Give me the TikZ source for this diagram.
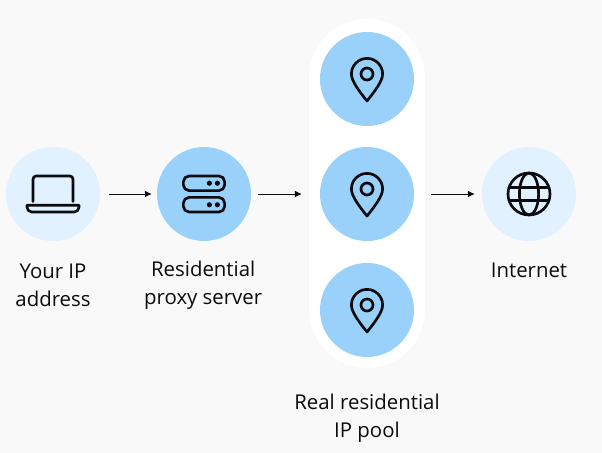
\documentclass[tikz,border=0pt]{standalone}
\usepackage{fontspec}
\setmainfont{Open Sans}
\usetikzlibrary{arrows.meta, positioning, calc}
\definecolor{Canvas}{HTML}{F9F9F9}
\definecolor{PaleBlue}{HTML}{E1F1FF}
\definecolor{MidBlue}{HTML}{99D1FA}
\definecolor{Ink}{HTML}{0B0B0F}

\begin{document}
\begin{tikzpicture}[
  hub/.style={
    circle,
    minimum size=2.35cm,
    inner sep=0pt
  },
  palehub/.style={hub, fill=PaleBlue},
  midhub/.style={hub, fill=MidBlue},
  pill/.style={
    rounded corners=1.45cm,
    fill=white,
    minimum width=2.9cm,
    minimum height=8.725cm,
    inner sep=0pt
  },
  caption/.style={
    text=Ink,
    align=center,
    font=\fontsize{14.5}{19.9}\selectfont
  },
  icon/.style={
    draw=Ink,
    line width=1.9pt,
    line cap=round,
    line join=round
  },
  flow/.style={
    -{Latex[length=1.7mm,width=1.7mm]},
    line width=0.65pt,
    draw=Ink
  },
  laptopicon/.pic={
    \draw[icon] (-.5,-.19) -- (-.5,.37) arc[start angle=180,end angle=90,radius=.08]
      -- (.42,.45) arc[start angle=90,end angle=0,radius=.08] -- (.5,-.19);
    \draw[icon] (-.65,-.28) -- (.65,-.28) -- (.65,-.33)
      arc[start angle=0,end angle=-90,radius=.12] -- (-.53,-.45)
      arc[start angle=270,end angle=180,radius=.12] -- cycle;
  },
  servericon/.pic={
    \draw[icon, rounded corners=.14cm] (-.515,.085) rectangle (.515,.45);
    \draw[icon, rounded corners=.14cm] (-.515,-.45) rectangle (.515,-.085);
    \foreach \dotx in {.135,.335}{
      \foreach \doty in {.27,-.27}{
        \fill[Ink] (\dotx,\doty) circle (.065);
      }
    }
  },
  pinicon/.pic={
    \draw[icon] (0,-.55) .. controls (-.2,-.3) and (-.39,-.05) .. (-.39,.125)
      arc[start angle=180,end angle=0,radius=.39]
      .. controls (.39,-.05) and (.2,-.3) .. cycle;
    \draw[icon] (0,.125) circle (.15);
  },
  globeicon/.pic={
    \draw[icon] (0,0) circle (.525);
    \draw[icon] (0,0) ellipse (.24 and .525);
    \draw[icon] (-.5,.16) -- (.5,.16);
    \draw[icon] (-.5,-.16) -- (.5,-.16);
  }
]

\fill[Canvas] (0,0) rectangle (15.05,11.325);

\node[pill] (pool) at (9.175,6.4875) {};

\node[palehub] (laptop) at (1.325,6.475) {};
\node[midhub] (server) at (5.1,6.475) {};
\node[midhub] (pintop) at (9.175,9.35) {};
\node[midhub] (pinmid) at (9.175,6.475) {};
\node[midhub] (pinlow) at (9.175,3.575) {};
\node[palehub] (internet) at (13.225,6.475) {};

\pic at (laptop) {laptopicon};
\pic at (server) {servericon};
\pic at (pintop) {pinicon};
\pic at (pinmid) {pinicon};
\pic at (pinlow) {pinicon};
\pic at (internet) {globeicon};

\draw[flow, shorten <=.225cm, shorten >=.125cm] (laptop) -- (server);
\draw[flow, shorten <=.175cm, shorten >=.45cm] (server) -- (pinmid);
\draw[flow, shorten <=.425cm, shorten >=.175cm] (pinmid) -- (internet);

\node[caption] (laptoplabel) at (1.325,4.2) {Your IP\\address};
\node[caption] (serverlabel) at (5.08,4.2) {Residential\\proxy server};
\node[caption] (poollabel) at (9.175,0.87) {Real residential\\IP pool};
\node[caption] (internetlabel) at (13.225,4.57) {Internet};

\end{tikzpicture}
\end{document}
